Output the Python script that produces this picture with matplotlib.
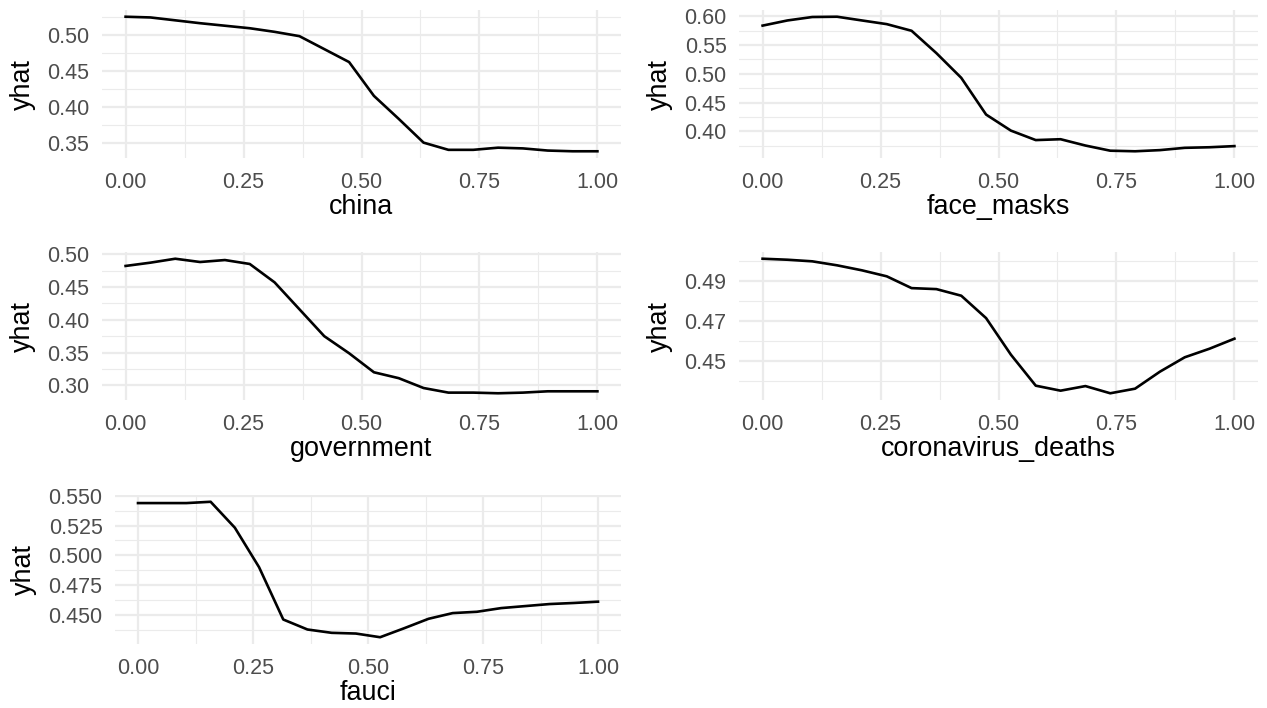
import numpy as np
import matplotlib
matplotlib.use('Agg')
import matplotlib.pyplot as plt
from matplotlib.ticker import FixedLocator, FormatStrFormatter

plt.rcParams['font.family'] = ['Liberation Sans', 'DejaVu Sans']

# Partial dependence values, 20 evenly spaced grid points on [0, 1]
grid = np.linspace(0, 1, 20)

china = [0.525, 0.524, 0.520, 0.516, 0.5125, 0.509, 0.504, 0.498, 0.480, 0.462,
         0.415, 0.383, 0.350, 0.340, 0.340, 0.343, 0.342, 0.339, 0.338, 0.338]
face_masks = [0.584, 0.593, 0.599, 0.5995, 0.593, 0.5866, 0.575, 0.536, 0.493, 0.429,
              0.401, 0.3845, 0.386, 0.375, 0.366, 0.365, 0.367, 0.371, 0.372, 0.374]
government = [0.482, 0.487, 0.493, 0.488, 0.491, 0.485, 0.457, 0.416, 0.375, 0.349,
              0.320, 0.311, 0.296, 0.289, 0.289, 0.288, 0.289, 0.291, 0.291, 0.291]
coronavirus_deaths = [0.501, 0.5005, 0.4997, 0.4977, 0.4952, 0.4922, 0.4863, 0.4858, 0.4825, 0.4713,
                      0.453, 0.4375, 0.435, 0.4373, 0.4337, 0.436, 0.4445, 0.4517, 0.456, 0.461]
fauci = [0.5439, 0.5439, 0.5439, 0.545, 0.5232, 0.490, 0.446, 0.4376, 0.4348, 0.4342,
         0.4311, 0.4387, 0.4466, 0.4514, 0.4525, 0.4556, 0.4573, 0.459, 0.4599, 0.461]

x_ticks = [0, 0.25, 0.5, 0.75, 1.0]

# name, values, y major ticks, y minor ticks, label format
panels = [
    ('china', china, [0.35, 0.40, 0.45, 0.50], [0.325, 0.375, 0.425, 0.475, 0.525], '%.2f'),
    ('face_masks', face_masks, [0.40, 0.45, 0.50, 0.55, 0.60], [0.375, 0.425, 0.475, 0.525, 0.575], '%.2f'),
    ('government', government, [0.30, 0.35, 0.40, 0.45, 0.50], [0.275, 0.325, 0.375, 0.425, 0.475], '%.2f'),
    ('coronavirus_deaths', coronavirus_deaths, [0.45, 0.47, 0.49], [0.44, 0.46, 0.48, 0.50], '%.2f'),
    ('fauci', fauci, [0.450, 0.475, 0.500, 0.525, 0.550], [0.4375, 0.4625, 0.4875, 0.5125, 0.5375], '%.3f'),
]

W, H = 1267, 708
fig = plt.figure(figsize=(W / 100, H / 100), dpi=100)

# panel boxes in pixels: left, top, right, bottom
boxes = [(102, 10, 621, 158), (739, 10, 1258, 158),
         (102, 252, 621, 400), (739, 252, 1258, 400),
         (115, 495, 621, 644)]

for (name, vals, yt, ymt, fmt), (l, t, r, b) in zip(panels, boxes):
    ax = fig.add_axes([l / W, 1 - b / H, (r - l) / W, (b - t) / H])
    ax.plot(grid, vals, color='black', lw=1.9)
    ax.margins(0.05)
    ax.xaxis.set_major_locator(FixedLocator(x_ticks))
    ax.xaxis.set_minor_locator(FixedLocator([0.125, 0.375, 0.625, 0.875]))
    ax.xaxis.set_major_formatter(FormatStrFormatter('%.2f'))
    ax.yaxis.set_major_locator(FixedLocator(yt))
    ax.yaxis.set_minor_locator(FixedLocator(ymt))
    ax.yaxis.set_major_formatter(FormatStrFormatter(fmt))
    ax.grid(which='major', color='#EBEBEB', lw=1.6)
    ax.grid(which='minor', color='#EBEBEB', lw=0.8)
    ax.set_axisbelow(True)
    for s in ax.spines.values():
        s.set_visible(False)
    ax.tick_params(which='both', length=0, labelsize=15.5, labelcolor='#4D4D4D')
    ax.tick_params(axis='y', pad=9)
    ax.tick_params(axis='x', pad=10)
    ax.set_xlabel(name, fontsize=19.4, labelpad=1)
    ax.set_ylabel('yhat', fontsize=19.4, labelpad=8)

fig.savefig('out.png', dpi=100)
